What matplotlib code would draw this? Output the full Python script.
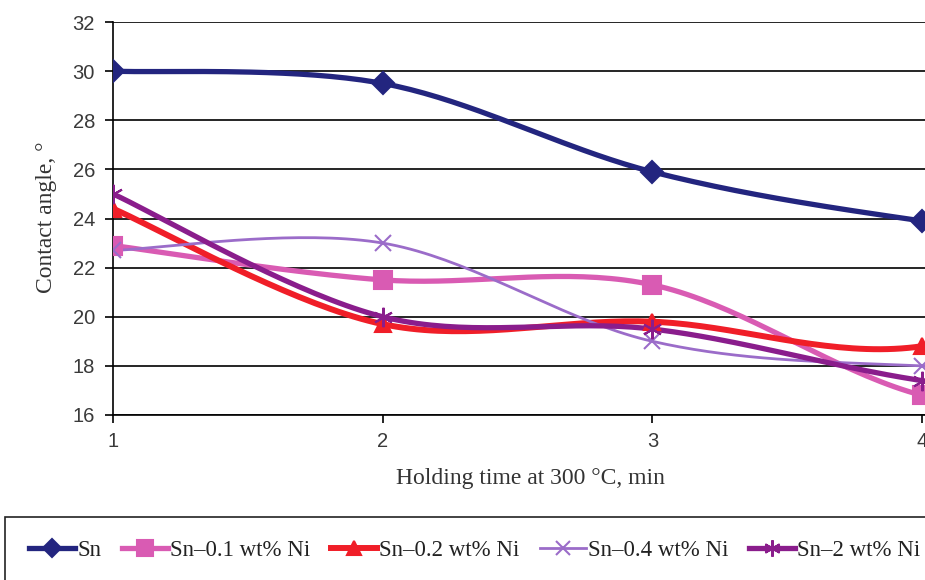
import numpy as np
import matplotlib.pyplot as plt
from matplotlib.patches import Rectangle

# the source chart is cropped just right of x=4; the last value of each
# series (x=5) lies off the canvas and is estimated from the curve shape
time_min = [1, 2, 3, 4, 5]
sn = [30.0, 29.5, 25.9, 23.9, 22.7]
sn_01ni = [22.9, 21.5, 21.3, 16.8, 15.5]
sn_02ni = [24.4, 19.7, 19.8, 18.8, 23.0]
sn_04ni = [22.7, 23.0, 19.0, 18.0, 18.0]
sn_2ni = [25.0, 20.0, 19.5, 17.4, 16.2]

labels = ['Sn', 'Sn\u20130.1 wt% Ni', 'Sn\u20130.2 wt% Ni', 'Sn\u20130.4 wt% Ni', 'Sn\u20132 wt% Ni']
y_ticks = [16, 18, 20, 22, 24, 26, 28, 30, 32]


def smooth(x, y, n=40):
    # excel-like smoothed line: cubic bezier with catmull-rom control points
    x = np.asarray(x, float)
    y = np.asarray(y, float)
    px = np.concatenate([[x[0]], x, [x[-1]]])
    py = np.concatenate([[y[0]], y, [y[-1]]])
    t = np.linspace(0, 1, n)
    xs, ys = [], []
    for i in range(len(x) - 1):
        p0 = np.array([px[i + 1], py[i + 1]])
        p3 = np.array([px[i + 2], py[i + 2]])
        p1 = p0 + (p3 - np.array([px[i], py[i]])) / 6
        p2 = p3 - (np.array([px[i + 3], py[i + 3]]) - p0) / 6
        pts = ((1 - t) ** 3)[:, None] * p0 + (3 * (1 - t) ** 2 * t)[:, None] * p1 \
            + (3 * (1 - t) * t ** 2)[:, None] * p2 + (t ** 3)[:, None] * p3
        xs.extend(pts[:, 0])
        ys.extend(pts[:, 1])
    return xs, ys


fig = plt.figure(figsize=(9.25, 5.8), dpi=100)
# x=1 at 113 px, x=4 at 922 px -> axes runs off the right edge up to x=5
unit = (922 - 113) / 3
ax = fig.add_axes([113 / 925, 1 - 415 / 580, 4 * unit / 925, (415 - 22) / 580])

series = [
    (sn, '#23257f', 'D', 11, 3.8, 1.5),
    (sn_01ni, '#d95bb3', 's', 13, 3.8, 1.5),
    (sn_02ni, '#f01e28', '^', 12, 4.3, 1.5),
    (sn_04ni, '#9b6cc9', 'x', 12, 2.0, 1.5),
    (sn_2ni, '#8a1d8c', (6, 2, 0), 14, 3.8, 1.5),
]

handles = []
for (vals, col, mk, ms, lw, mew), lab in zip(series, labels):
    xs, ys = smooth(time_min, vals)
    ax.plot(xs, ys, color=col, lw=lw, solid_capstyle='round', zorder=3)
    ax.plot(time_min, vals, ls='none', marker=mk, ms=ms, color=col,
            mec=col, mew=mew, zorder=4)
    h, = plt.plot([], [], color=col, lw=lw, marker=mk, ms=ms * 0.85, mec=col, mew=mew)
    handles.append(h)

ax.set_xlim(1, 5)
ax.set_ylim(16, 32)
ax.set_yticks(y_ticks)
ax.set_xticks(time_min[:4])
ax.yaxis.grid(True, color='black', lw=1.2)
ax.set_axisbelow(True)
for s in ['top', 'right']:
    ax.spines[s].set_visible(False)
for s in ['left', 'bottom']:
    ax.spines[s].set_linewidth(1.2)
ax.tick_params(axis='both', direction='out', length=6, width=1.2, colors='black',
               labelcolor='#3a3a3a', labelsize=14.5)
ax.tick_params(axis='x', pad=6)
ax.tick_params(axis='y', pad=7)
for t in ax.get_xticklabels() + ax.get_yticklabels():
    t.set_family('Liberation Sans')

ax.set_xlabel('Holding time at 300 \u00b0C, min', family='Liberation Serif', fontsize=17,
              color='#333333')
ax.xaxis.set_label_coords((530 - 113) / (4 * unit), -(468 - 415) / (415 - 22))
ax.set_ylabel('Contact angle, \u00b0', family='Liberation Serif', fontsize=17,
              color='#333333')
ax.yaxis.set_label_coords(-(113 - 57) / (4 * unit), (415 - 217) / (415 - 22))

fig.patches.append(Rectangle((5 / 925, -0.1), 1.2, 0.1 + 1 - 517 / 580, transform=fig.transFigure,
                             fill=False, ec='#222222', lw=1.2))
fig.legend(handles, labels, loc='center left', bbox_to_anchor=(18 / 925, 1 - 550 / 580), ncol=5,
           frameon=False, prop={'family': 'Liberation Serif', 'size': 16.5},
           handlelength=2.0, handletextpad=0.1, columnspacing=0.9, borderpad=0,
           labelcolor='#222222')

fig.savefig('out.png', dpi=100)
